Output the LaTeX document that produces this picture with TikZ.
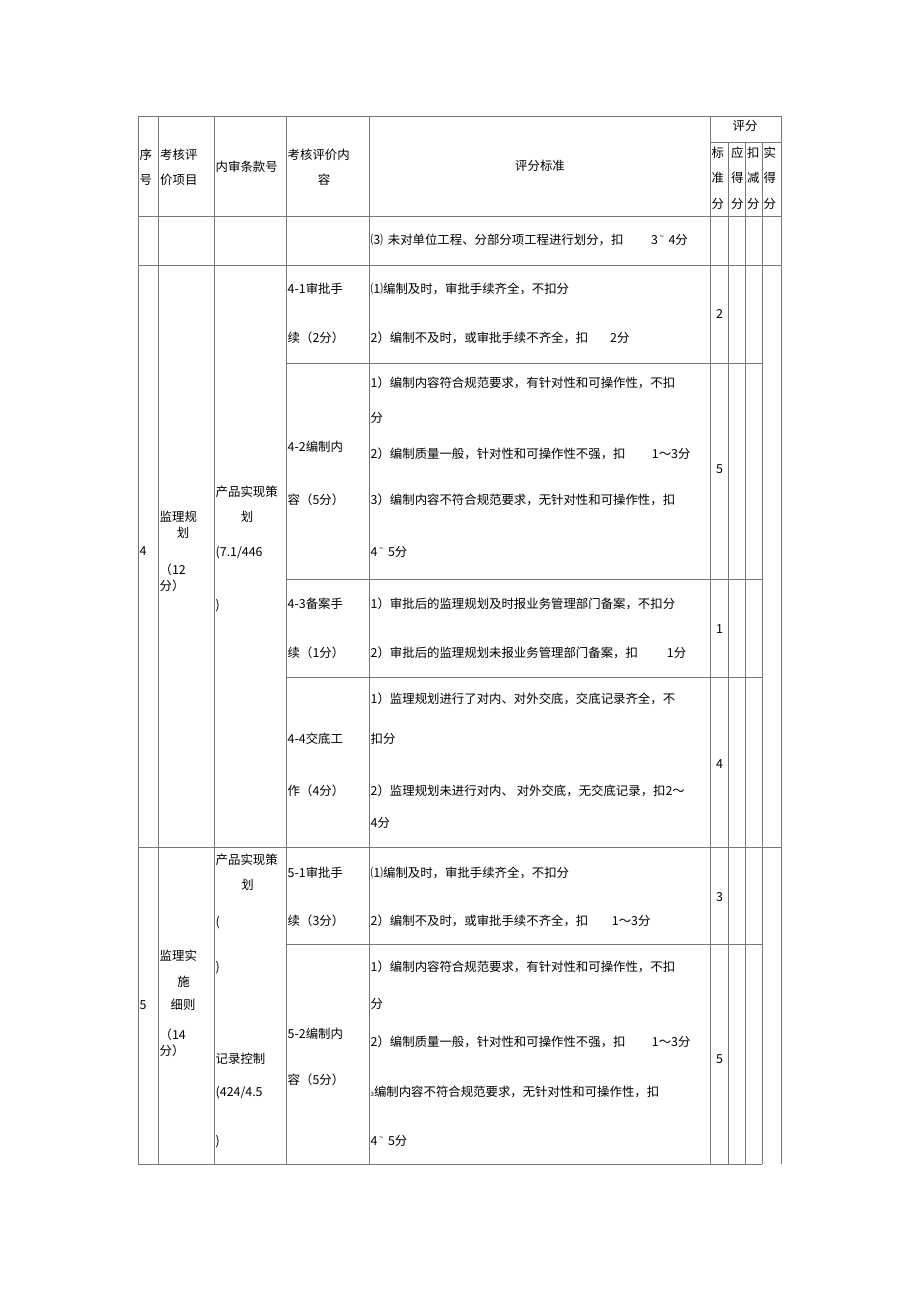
\documentclass[tikz,border=0pt]{standalone}
\usepackage{fontspec}
\setmainfont{Noto Sans CJK SC}
\usepackage{tikz}
\newcommand{\uptilde}{\hspace{1.5pt}\raisebox{5.5pt}{\fontsize{8}{8}\selectfont\textasciitilde}\hspace{4.5pt}}
\begin{document}
\begin{tikzpicture}[x=1pt,y=-1pt,
  rule/.style={draw={rgb,255:red,120;green,120;blue,120},line width=0.7pt},
  cell/.style={anchor=west,inner sep=0pt,text height=10.8pt,text depth=1.5pt,font=\fontsize{12.4}{14}\selectfont},
  cellc/.style={cell,anchor=center}]
\useasboundingbox (0,0) rectangle (920,1303);
\draw [rule] (138,116) -- (781,116);
\draw [rule] (710.5,142) -- (781,142);
\draw [rule] (138,216) -- (781,216);
\draw [rule] (138,265) -- (781,265);
\draw [rule] (286,363) -- (762,363);
\draw [rule] (286,579) -- (762,579);
\draw [rule] (286,677) -- (762,677);
\draw [rule] (138,847) -- (781,847);
\draw [rule] (286,944) -- (762,944);
\draw [rule] (138,1164) -- (762,1164);
\draw [rule] (138,116) -- (138,1164);
\draw [rule] (158.5,116) -- (158.5,1164);
\draw [rule] (214,116) -- (214,1164);
\draw [rule] (286,116) -- (286,1164);
\draw [rule] (369,116) -- (369,1164);
\draw [rule] (710.5,116) -- (710.5,1164);
\draw [rule] (728.5,142) -- (728.5,1164);
\draw [rule] (745,142) -- (745,1164);
\draw [rule] (762,142) -- (762,1164);
\draw [rule] (781,116) -- (781,1164);
% header
\node [cell] (hxa) at (139.5,155) {序};
\node [cell] (hxb) at (139.5,180) {号};
\node [cell] (hxma) at (160,155) {考核评};
\node [cell] (hxmb) at (160,180) {价项目};
\node [cell] (htk) at (215.5,167) {内审条款号};
\node [cell] (hnra) at (287.5,155) {考核评价内};
\node [cellc] (hnrb) at (324,180) {容};
\node [cellc] (hbz) at (540,166) {评分标准};
\node [cellc] (hpf) at (745,126) {评分};
\node [cell] (hbza) at (711.5,153) {标};
\node [cell] (hbzb) at (711.5,178) {准};
\node [cell] (hbzc) at (711.5,204) {分};
\node [cell] (hyda) at (731,153) {应};
\node [cell] (hydb) at (731,178) {得};
\node [cell] (hydc) at (731,204) {分};
\node [cell] (hkja) at (747,153) {扣};
\node [cell] (hkjb) at (747,178) {减};
\node [cell] (hkjc) at (747,204) {分};
\node [cell] (hsda) at (763.5,153) {实};
\node [cell] (hsdb) at (763.5,178) {得};
\node [cell] (hsdc) at (763.5,204) {分};
% row (3)
\node [cell] (c3a) at (370.5,240) {⑶\hspace{2pt} 未对单位工程、分部分项工程进行划分，扣};
\node [cell] (c3b) at (651,240) {3\uptilde 4分};
% item 4
\node [cell] (n4) at (139.5,551) {4};
\node [cell] (xm4a) at (159.5,517) {监理规};
\node [cellc] (xm4b) at (183,533) {划};
\node [cell] (xm4c) at (159.5,570) {（12};
\node [cell] (xm4d) at (159.5,586) {分）};
\node [cell] (tk4a) at (215.5,492) {产品实现策};
\node [cellc] (tk4b) at (247,517) {划};
\node [cell] (tk4c) at (215.5,552) {(7.1/446};
\node [cell] (tk4d) at (215.5,605) {)};
\node [cell] (nr41a) at (287.5,289) {4-1审批手};
\node [cell] (nr41b) at (287.5,338) {续（2分）};
\node [cell] (bz41a) at (370.5,289) {⑴编制及时，审批手续齐全，不扣分};
\node [cell] (bz41b) at (370.5,338) {2）编制不及时，或审批手续不齐全，扣};
\node [cell] (bz41c) at (610,338) {2分};
\node [cellc] (f41) at (719.5,314) {2};
\node [cell] (nr42a) at (287.5,447) {4-2编制内};
\node [cell] (nr42b) at (287.5,500) {容（5分）};
\node [cell] (bz42a) at (370.5,383) {1）编制内容符合规范要求，有针对性和可操作性，不扣};
\node [cell] (bz42b) at (370.5,418) {分};
\node [cell] (bz42c) at (370.5,454) {2）编制质量一般，针对性和可操作性不强，扣};
\node [cell] (bz42d) at (651.7,454) {1～3分};
\node [cell] (bz42e) at (370.5,500) {3）编制内容不符合规范要求，无针对性和可操作性，扣};
\node [cell] (bz42f) at (370.5,552) {4\uptilde 5分};
\node [cellc] (f42) at (719.5,469) {5};
\node [cell] (nr43a) at (287.5,604) {4-3备案手};
\node [cell] (nr43b) at (287.5,653) {续（1分）};
\node [cell] (bz43a) at (370.5,604) {1）审批后的监理规划及时报业务管理部门备案，不扣分};
\node [cell] (bz43b) at (370.5,653) {2）审批后的监理规划未报业务管理部门备案，扣};
\node [cell] (bz43c) at (666.7,653) {1分};
\node [cellc] (f43) at (719.5,629) {1};
\node [cell] (nr44a) at (287.5,739) {4-4交底工};
\node [cell] (nr44b) at (287.5,791) {作（4分）};
\node [cell] (bz44a) at (370.5,699) {1）监理规划进行了对内、对外交底，交底记录齐全，不};
\node [cell] (bz44b) at (370.5,739) {扣分};
\node [cell] (bz44c) at (370.5,791) {2）监理规划未进行对内、 对外交底，无交底记录，扣2～};
\node [cell] (bz44d) at (370.5,823) {4分};
\node [cellc] (f44) at (719.5,764) {4};
% item 5
\node [cell] (n5) at (139.5,1005) {5};
\node [cell] (xm5a) at (159.5,956) {监理实};
\node [cellc] (xm5b) at (183.5,982) {施};
\node [cellc] (xm5c) at (183,1005) {细则};
\node [cell] (xm5d) at (159.5,1035) {（14};
\node [cell] (xm5e) at (159.5,1051) {分）};
\node [cell] (tk5a) at (215.5,860) {产品实现策};
\node [cellc] (tk5b) at (247.5,885) {划};
\node [cell] (tk5c) at (215.5,922) {(};
\node [cell] (tk5d) at (215.5,967) {)};
\node [cell] (tk5e) at (215.5,1059) {记录控制};
\node [cell] (tk5f) at (215.5,1092) {(424/4.5};
\node [cell] (tk5g) at (215.5,1141) {)};
\node [cell] (nr51a) at (287.5,873) {5-1审批手};
\node [cell] (nr51b) at (287.5,921) {续（3分）};
\node [cell] (bz51a) at (370.5,873) {⑴编制及时，审批手续齐全，不扣分};
\node [cell] (bz51b) at (370.5,921) {2）编制不及时，或审批手续不齐全，扣};
\node [cell] (bz51c) at (611.7,921) {1～3分};
\node [cellc] (f51) at (719.5,897) {3};
\node [cell] (nr52a) at (287.5,1034) {5-2编制内};
\node [cell] (nr52b) at (287.5,1080) {容（5分）};
\node [cell] (bz52a) at (370.5,967) {1）编制内容符合规范要求，有针对性和可操作性，不扣};
\node [cell] (bz52b) at (370.5,1004) {分};
\node [cell] (bz52c) at (370.5,1042) {2）编制质量一般，针对性和可操作性不强，扣};
\node [cell] (bz52d) at (651.7,1042) {1～3分};
\node [cell] (bz52e) at (370.5,1092) {{\fontsize{6}{6}\selectfont 3}编制内容不符合规范要求，无针对性和可操作性，扣};
\node [cell] (bz52f) at (370.5,1141) {4\uptilde 5分};
\node [cellc] (f52) at (719.5,1059) {5};
\end{tikzpicture}
\end{document}
